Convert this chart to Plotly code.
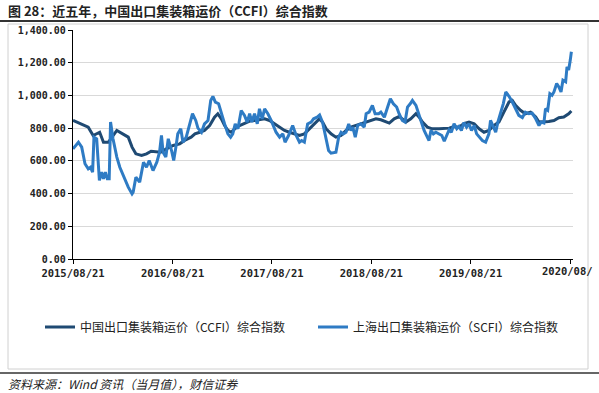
import pandas as pd
import plotly.graph_objects as go

START = "2015-08-21"

# CCFI: weeks since 2015-08-21, index value
ccfi_week = [0, 4.5, 8, 10.6, 14, 16, 18.5, 23, 26, 29, 31, 33, 36, 38.5, 41, 46, 49, 52.5, 56, 58.6,
             62, 64, 66.5, 69, 71.7, 74.3, 76, 77.8, 79.6, 81.3, 83, 84.8, 87.4, 90, 92.7, 95.3, 97.9,
             100.5, 103.1, 105.8, 108.4, 111, 113.6, 116.2, 118.8, 121.5, 124, 126.7, 129.3, 131, 132.8,
             135.4, 138, 140.7, 143.3, 145.9, 148.5, 151.1, 153.8, 156.4, 159, 161.6, 164.2, 166, 168.6,
             171.2, 172.9, 174.7, 177.3, 180, 181.7, 183.4, 186, 188.6, 192.1, 194.8, 197.4, 200, 202.6,
             205.2, 207.9, 210.5, 213.1, 215.7, 218.3, 221, 223.6, 226.2, 228.8, 230.5, 232.3, 234.9,
             237.5, 240.1, 242.8, 244.5, 247.1, 249.7, 252.4, 255, 257.6, 260.2, 261.6]
ccfi_val = [847, 826, 806, 755, 775, 714, 714, 786, 765, 745, 684, 643, 633, 643, 659, 653, 673, 694, 704, 725,
            745, 765, 775, 786, 816, 867, 888, 857, 816, 786, 775, 796, 816, 831, 843, 847, 851,
            857, 847, 826, 806, 786, 775, 765, 755, 765, 796, 826, 857, 837, 796,
            765, 745, 755, 786, 806, 816, 826, 837, 847, 857, 851, 837, 831, 857,
            871, 857, 837, 857, 888, 867, 837, 806, 796, 796, 800, 800, 810, 805,
            827, 837, 827, 796, 775, 786, 816, 837, 898, 960, 970, 939, 909,
            888, 898, 868, 837, 837, 841, 847, 864, 868, 888, 905]

# SCFI: weeks since 2015-08-21, index value
scfi_week = [0, 2.8, 4.5, 6.3, 8, 9.2, 10.3, 11, 12.4, 13.8, 15, 16, 17, 18, 19, 19.7, 21, 23, 24.6, 27,
             29, 31, 31.6, 33, 35, 37, 38.5, 40, 42, 44, 45.5, 46.4, 47.3, 48.7, 50, 51.7, 52.9, 54, 55,
             56.5, 57.7, 59.5, 61, 62.7, 64.4, 65.6, 67.4, 69, 70.9, 72.3, 73.5, 74.7, 76.4, 77.8, 79.6,
             81.3, 82.7, 83.9, 85.2, 86.6, 88.3, 90, 91.5, 92.7, 93.9, 95.3, 96.7, 97.9, 99.3, 100.5,
             102.3, 104, 106.6, 108.4, 110.1, 111.3, 113.1, 115.3, 117.1, 118.8, 120, 121.5, 123.2, 125,
             126.3, 128.1, 129.5, 131, 132.8, 134.2, 135.4, 138, 139.4, 140.7, 141.9, 143.3, 144.7, 145.9,
             146.8, 148.2, 149.4, 151.1, 152.9, 153.8, 155.5, 157.2, 158.6, 160.4, 161.6, 163.4, 165.1,
             166.5, 168.1, 169.8, 171.2, 172.9, 174.3, 175.6, 177, 178.2, 180, 181.3, 182.6, 184.3, 185.5,
             186.9, 187.8, 189.2, 190.4, 191.8, 193.6, 194.8, 196.2, 197.4, 198.6, 200, 201.4, 202.6,
             203.8, 205.2, 206.6, 207.9, 209.1, 210.5, 211.9, 213.1, 214.8, 216.6, 218.3, 219.2, 220.6,
             221.8, 223, 224.4, 225.8, 227.1, 228.8, 230.5, 232.3, 234, 235.8, 237.5, 239.3, 241, 242.8,
             244.5, 245.7, 247.1, 248, 249.2, 250.3, 251.5, 252.4, 253.8, 255, 256.2, 257.2, 258.5, 259.3,
             260.2, 261, 261.6]
scfi_val = [673, 714, 684, 582, 551, 561, 531, 745, 735, 480, 531, 490, 531, 490, 490, 837, 735, 623, 561, 490,
            439, 398, 408, 500, 470, 592, 561, 602, 541, 592, 653, 755, 653, 623, 735, 663, 602, 684, 765,
            796, 714, 745, 806, 888, 847, 800, 775, 826, 847, 969, 994, 959, 949, 888, 826,
            765, 745, 765, 826, 796, 908, 878, 837, 888, 837, 888, 826, 918, 857, 918,
            888, 847, 775, 745, 765, 714, 755, 816, 755, 714, 724, 714, 826, 837,
            857, 867, 880, 835, 735, 663, 647, 653, 745, 775, 765, 775, 826, 786,
            806, 745, 816, 826, 806, 888, 898, 939, 888, 888, 898, 867, 929,
            980, 949, 929, 888, 847, 837, 929, 949, 969, 939, 898, 847, 786, 755,
            724, 786, 765, 775, 765, 755, 720, 760, 790, 775, 827, 796, 810,
            786, 834, 806, 827, 786, 816, 765, 745, 724, 714, 765, 847, 806,
            775, 837, 888, 950, 1021, 995, 960, 919, 878, 864, 898, 888, 892, 857,
            816, 837, 831, 919, 909, 1011, 1001, 1021, 1073, 1052, 1021, 1093, 1083, 1175,
            1155, 1216, 1267]

tick_dates = ["2015-08-21", "2016-08-21", "2017-08-21", "2018-08-21", "2019-08-21", "2020-08-21"]
tick_text = ["2015/08/21", "2016/08/21", "2017/08/21", "2018/08/21", "2019/08/21", ""]
last_tick_text = "2020/08/"   # shown clipped in the reference
y_ticks = [0, 200, 400, 600, 800, 1000, 1200, 1400]

name_ccfi = "中国出口集装箱运价（CCFI）综合指数"
name_scfi = "上海出口集装箱运价（SCFI）综合指数"


def to_dates(weeks):
    start = pd.Timestamp(START)
    return [start + pd.Timedelta(days=round(w * 7)) for w in weeks]


W, H = 599, 393
PL, PR, PT, PB = 73, 573, 30, 259


def px(x):
    return (x - PL) / (PR - PL)


def py(y):
    return (PB - y) / (PB - PT)


fig = go.Figure()
fig.add_trace(go.Scatter(x=to_dates(ccfi_week), y=ccfi_val, mode="lines", name=name_ccfi,
                         line=dict(color="#1f4a73", width=3), legend="legend"))
fig.add_trace(go.Scatter(x=to_dates(scfi_week), y=scfi_val, mode="lines", name=name_scfi,
                         line=dict(color="#2e7bc4", width=3), legend="legend2"))

mono = "DejaVu Sans Mono"
cjk = "Noto Sans CJK SC"
tickfont_x = dict(family=mono, size=10.5, color="#222", weight="bold")

legend_common = dict(orientation="h", xanchor="left", yanchor="middle",
                     font=dict(family=cjk, size=12, color="#222"),
                     bgcolor="rgba(0,0,0,0)", itemclick=False, itemdoubleclick=False)

fig.update_layout(
    width=W, height=H,
    margin=dict(l=PL, r=W - PR, t=PT, b=H - PB, autoexpand=False),
    paper_bgcolor="white", plot_bgcolor="white",
    font=dict(family=cjk, color="#222"),
    xaxis=dict(type="date", range=["2015-08-21", "2020-08-31"],
               tickvals=tick_dates, ticktext=tick_text,
               showgrid=False, showline=True, linecolor="#000", linewidth=1.3,
               ticks="outside", ticklen=4, tickcolor="#000",
               tickfont=tickfont_x, tickangle=0),
    yaxis=dict(range=[0, 1400], tickvals=y_ticks, tickformat=",.2f",
               showgrid=True, gridcolor="#d9d9d9", gridwidth=1.3, zeroline=False,
               showline=True, linecolor="#000", linewidth=1.3,
               ticks="outside", ticklen=4, tickcolor="#000",
               tickfont=dict(family=mono, size=10, color="#222", weight="bold")),
    legend=dict(x=px(40), y=py(327), **legend_common),
    legend2=dict(x=px(313), y=py(327), **legend_common),
    showlegend=True,
)

# last x tick label (clipped by the chart frame in the reference)
fig.add_annotation(text=last_tick_text, xref="x", yref="paper", x=tick_dates[-1], y=py(271),
                   xanchor="left", yanchor="middle", xshift=-30, showarrow=False,
                   font=tickfont_x)

# title
fig.add_annotation(text="<b>图 28：近五年，中国出口集装箱运价（CCFI）综合指数</b>",
                   xref="paper", yref="paper", x=px(6), y=py(11), xanchor="left", yanchor="middle",
                   showarrow=False, font=dict(family=cjk, size=13, color="#222"))
# source
fig.add_annotation(text="<i>资料来源：Wind 资讯（当月值），财信证券</i>",
                   xref="paper", yref="paper", x=px(6), y=py(383), xanchor="left", yanchor="middle",
                   showarrow=False, font=dict(family=cjk, size=12, color="#222"))

# title underline
fig.add_shape(type="line", xref="paper", yref="paper", x0=px(0), x1=px(W), y0=py(21), y1=py(21),
              line=dict(color="#333", width=2))
# frame
fig.add_shape(type="rect", xref="paper", yref="paper", x0=px(8), x1=px(588), y0=py(24), y1=py(369),
              line=dict(color="#d0d0d0", width=1), layer="below")
# footer line
fig.add_shape(type="line", xref="paper", yref="paper", x0=px(0), x1=px(W), y0=py(373), y1=py(373),
              line=dict(color="#333", width=1.5))

fig.write_html("out.html", post_script="document.body.style.margin='0px';",
               config={"displayModeBar": False})
